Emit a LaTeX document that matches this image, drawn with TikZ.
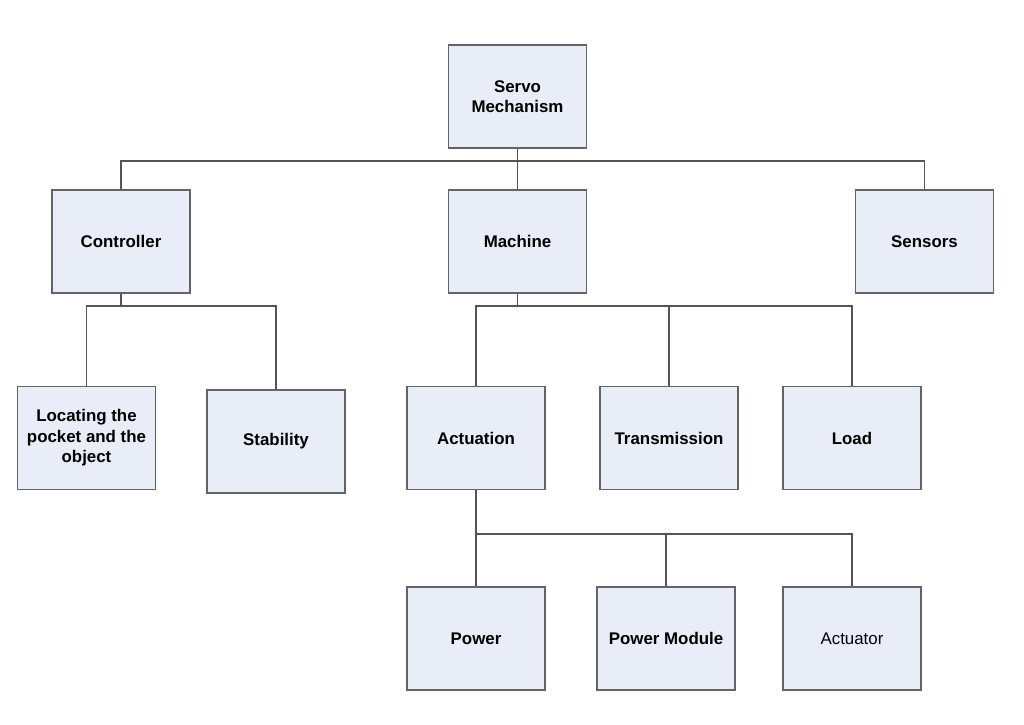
\documentclass[tikz,border=0pt]{standalone}
\usepackage{fontspec}
\setmainfont{Liberation Sans}
\definecolor{boxfill}{RGB}{232,237,247}
\definecolor{boxline}{RGB}{100,100,100}
\definecolor{linkline}{RGB}{85,85,85}
\begin{document}
\begin{tikzpicture}[x=0.025cm,y=-0.025cm,
	block/.style={draw=boxline,fill=boxfill,line width=0.9pt,minimum width=3.45cm,minimum height=2.575cm,inner sep=2pt,align=center,font=\fontsize{12}{14.5}\selectfont\bfseries},
	plainblock/.style={block,font=\fontsize{12}{14.5}\selectfont},
	link/.style={draw=linkline,line width=0.8pt}]
	
	\useasboundingbox (0,0) rectangle (1024,724);
	
	% Draw nodes
	\node[block] (servo) at (517.5,96.5) {Servo\\Mechanism};
	\node[block] (controller) at (121,241.5) {Controller};
	\node[block] (machine) at (517.5,241.5) {Machine};
	\node[block] (sensors) at (924.5,241.5) {Sensors};
	\node[block] (locating) at (86.5,438) {Locating the\\pocket and the\\object};
	\node[block] (stability) at (276,441.5) {Stability};
	\node[block] (actuation) at (476,438) {Actuation};
	\node[block] (transmission) at (669,438) {Transmission};
	\node[block] (load) at (852,438) {Load};
	\node[block] (power) at (476,638.5) {Power};
	\node[block] (powermodule) at (666,638.5) {Power Module};
	\node[plainblock] (actuator) at (852,638.5) {Actuator};
	
	% Bus lines
	\coordinate (topbus) at (517.5,161);
	\coordinate (ctrlbus) at (121,306);
	\coordinate (machbus) at (517.5,306);
	\coordinate (actbus) at (476,534);
	
	% Draw lines, first level
	\draw[link] (servo) -- (topbus);
	\draw[link] (controller.north) |- (topbus) -| (sensors.north);
	\draw[link] (machine.north) -- (machine.north |- topbus);
	
	% Draw lines, controller branch
	\draw[link] (controller) -- (ctrlbus);
	\draw[link] (locating.north) |- (ctrlbus) -| (stability.north);
	
	% Draw lines, machine branch
	\draw[link] (machine) -- (machbus);
	\draw[link] (actuation.north) |- (machbus) -| (load.north);
	\draw[link] (transmission.north) -- (transmission.north |- machbus);
	
	% Draw lines, actuation branch
	\draw[link] (actuation.south) -- (power.north);
	\draw[link] (actbus) -| (actuator.north);
	\draw[link] (powermodule.north) -- (powermodule.north |- actbus);
	
\end{tikzpicture}
\end{document}
